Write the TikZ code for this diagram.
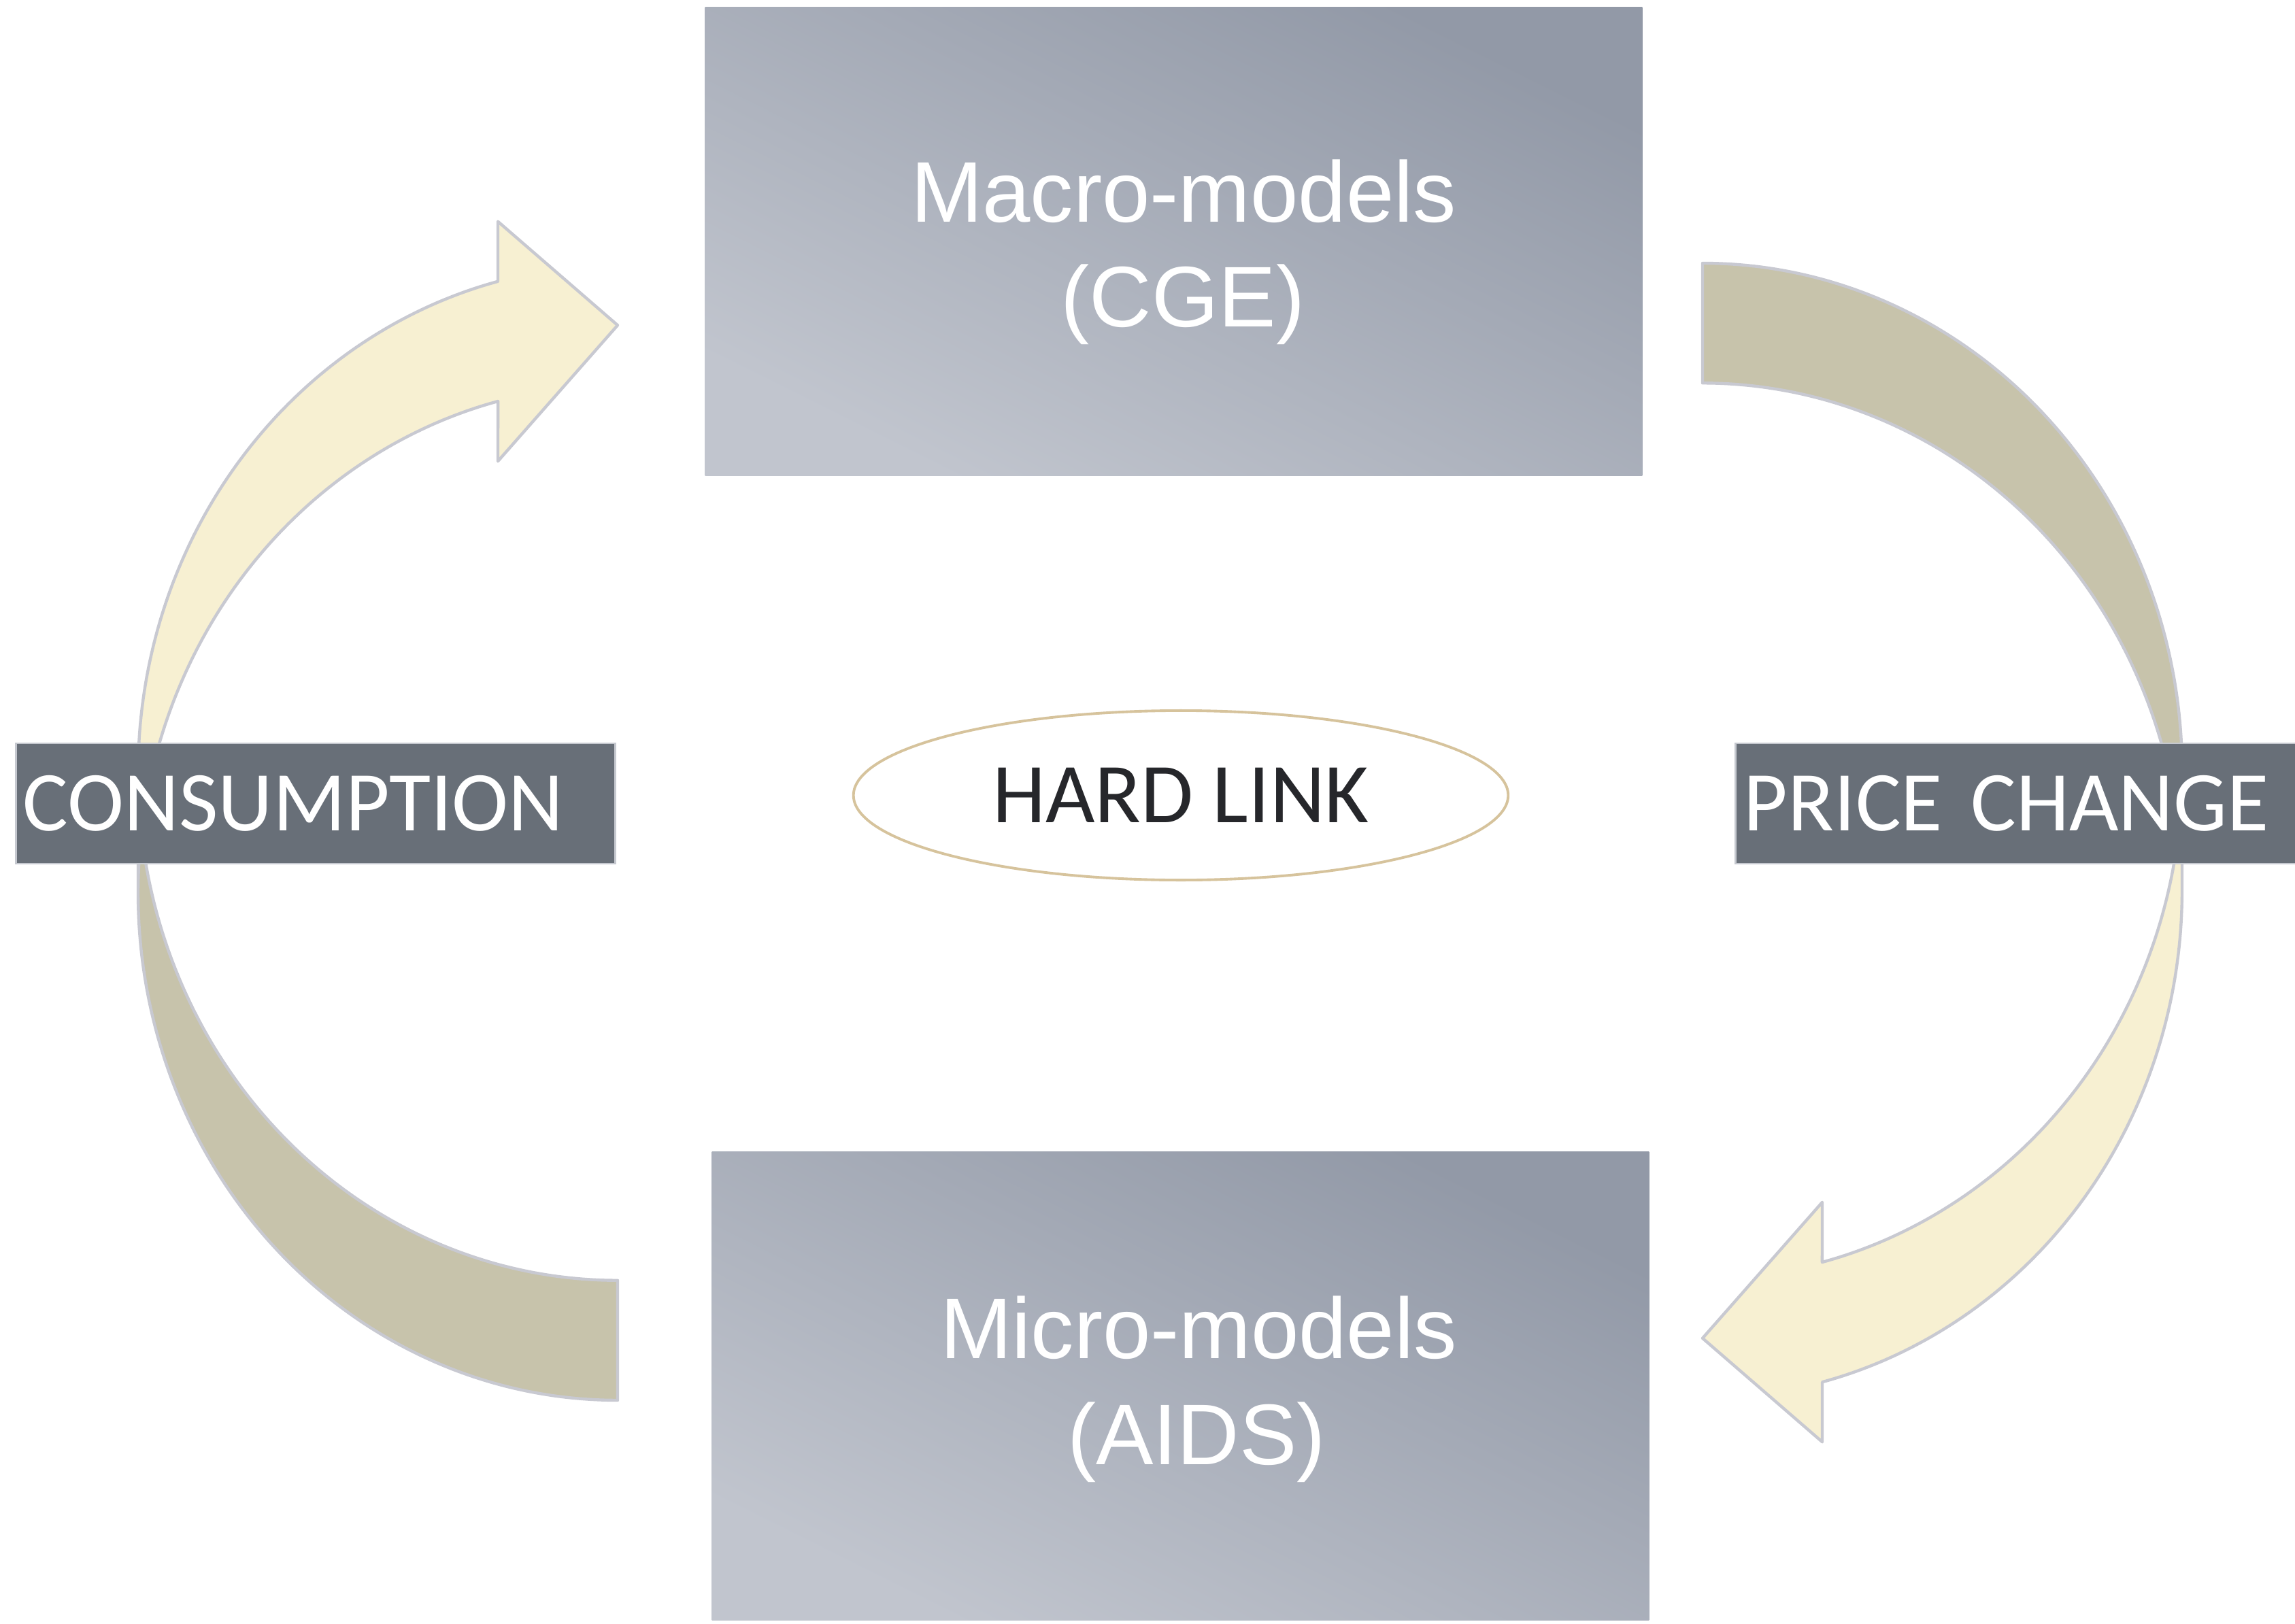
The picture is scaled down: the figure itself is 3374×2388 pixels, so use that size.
\documentclass[tikz,border=0pt]{standalone}
\usepackage{fontspec}
\newfontfamily\calfont{Carlito}
\newfontfamily\arialfont{Liberation Sans}
\usetikzlibrary{shapes.geometric}

\definecolor{frontfill}{HTML}{F7F0D2}
\definecolor{backfill}{HTML}{C7C3AB}
\definecolor{arrowedge}{HTML}{C8C9D1}
\definecolor{tagfill}{HTML}{686F78}
\definecolor{tagedge}{HTML}{C5C8CF}
\definecolor{boxlight}{HTML}{C1C5CE}
\definecolor{boxdark}{HTML}{9299A7}
\definecolor{linkgold}{HTML}{D6C39C}
\definecolor{linktext}{HTML}{26272B}

% Curved arrow (front band + shaded back band + outline), built from two
% equal ellipses (radii 705 x 746.31) centred on x = 908 and offset by the
% band thickness; coordinates in pixels, y pointing down.
\newcommand{\curlarrowshape}{%
  \fill[frontfill]
    plot[domain=180:255.55] ({908+705*cos(\x)},{1312.69+746.31*sin(\x)})
    -- (732,678.2) -- (908,478.25) -- (732,325.7) -- (732,413.83)
    -- plot[domain=255.55:180] ({908+705*cos(\x)},{1136.44+746.31*sin(\x)})
    -- cycle;
  \fill[backfill]
    plot[domain=90:173.22] ({908+705*cos(\x)},{1136.44+746.31*sin(\x)})
    -- plot[domain=186.78:90] ({908+705*cos(\x)},{1312.69+746.31*sin(\x)})
    -- cycle;
  \draw[arrowline]
    plot[domain=180:255.55] ({908+705*cos(\x)},{1312.69+746.31*sin(\x)})
    -- (732,678.2) -- (908,478.25) -- (732,325.7) -- (732,413.83)
    -- plot[domain=255.55:180] ({908+705*cos(\x)},{1136.44+746.31*sin(\x)})
    -- (203,1312.69)
    -- plot[domain=180:90] ({908+705*cos(\x)},{1312.69+746.31*sin(\x)})
    -- (908,1882.75)
    -- plot[domain=90:173.22] ({908+705*cos(\x)},{1136.44+746.31*sin(\x)});
}

\begin{document}
\begin{tikzpicture}[
  x=0.01cm, y=-0.01cm,
  samples=90, smooth,
  arrowline/.style={draw=arrowedge, line width=1.25pt, line join=round},
  modelbox/.style={rectangle, inner sep=0pt, minimum width=13.77cm,
    minimum height=6.88cm, top color=boxdark, bottom color=boxlight,
    shading angle=-26.5},
  modeltext/.style={text=white, inner sep=0pt,
    font=\arialfont\fontsize{36pt}{43pt}\selectfont},
  tagbox/.style={rectangle, fill=tagfill, draw=tagedge, line width=0.8pt,
    minimum height=1.77cm, inner ysep=0pt, align=left, text=white,
    font=\calfont\fontsize{35.6pt}{40pt}\selectfont},
  linkellipse/.style={ellipse, draw=linkgold, line width=1.1pt, fill=white,
    minimum width=9.62cm, minimum height=2.49cm, inner sep=0pt,
    text=linktext, font=\calfont\fontsize{35.6pt}{40pt}\selectfont}
]
\useasboundingbox (0,0) rectangle (3374,2388);
\fill[white] (0,0) rectangle (3374,2388);

% curved arrows: left one points up to the macro box,
% right one (same shape turned half round) points down to the micro box
\curlarrowshape
\begin{scope}[rotate around={180:(1705.5,1223)}]
  \curlarrowshape
\end{scope}

% model boxes
\node[modelbox] (macro) at (1725.5,355) {};
\node[modelbox] (micro) at (1735.5,2038) {};
\node[modeltext, anchor=base] (macroname) at (1740,327) {Macro-models};
\node[modeltext, anchor=base] (macrotag) at (1739,480) {(CGE)};
\node[modeltext, anchor=base] (microname) at (1762,1997) {Micro-models};
\node[modeltext, anchor=base] (microtag) at (1759,2153) {(AIDS)};

% side labels
\node[tagbox, text width=8.6cm, inner xsep=0.1cm] (consumption)
  at (464,1181.5) {CONSUMPTION};
\node[tagbox, text width=8.04cm, inner xsep=0.12cm] (pricechange)
  at (2966,1181.5) {PRICE CHANGE};

% centre label
\node[linkellipse] (hardlink) at (1736,1169.5) {HARD LINK};
\end{tikzpicture}
\end{document}
